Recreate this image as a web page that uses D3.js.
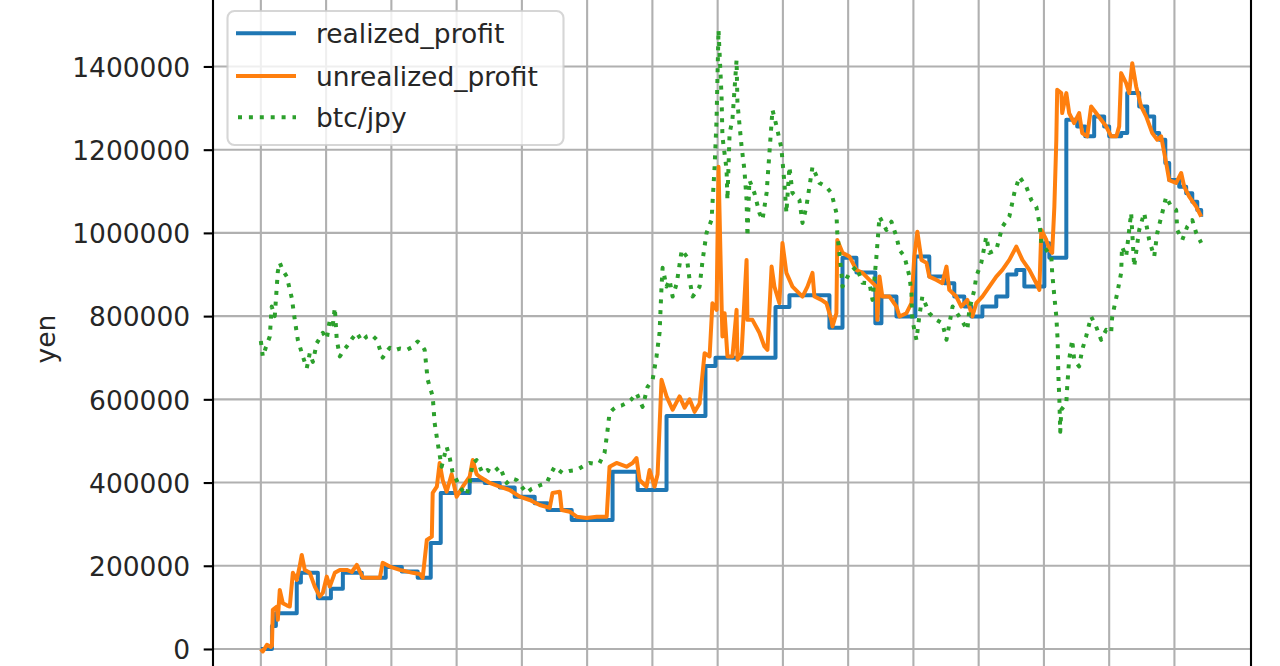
<!DOCTYPE html>
<html>
<head>
<meta charset="utf-8">
<script src="https://cdn.jsdelivr.net/npm/d3@7/dist/d3.min.js"></script>
<style>
  html, body { margin: 0; padding: 0; background: #fff; overflow: hidden; }
  svg { display: block; font-family: "DejaVu Sans", sans-serif; }
</style>
</head>
<body>
<svg id="chart" width="1280" height="666"></svg>
<script>
// x = days since start (one grid line every 30 days), y = yen

// realized profit, drawn as steps
const realizedProfit = [
  [0, 0], [5.1, 55000], [6.9, 86000], [16.5, 160000], [18.4, 183000], [26.2, 122000],
  [32.2, 145000], [37.7, 183000], [46.4, 171000], [57.4, 197000], [64.8, 186000],
  [72.1, 171000], [78.1, 255000], [82.7, 375000], [96.0, 406000], [102.9, 399000],
  [109.8, 388000], [116.7, 366000], [125.9, 350000], [131.8, 334000], [142.9, 310000],
  [161.7, 426000], [173.2, 382000], [186.5, 560000], [204.4, 680000], [209.0, 700000],
  [236.6, 822000], [243.0, 850000], [261.4, 772000], [267.4, 940000], [273.8, 905000],
  [282.5, 783000], [285.3, 847000], [292.2, 799000], [300.9, 943000], [307.3, 895000],
  [314.2, 879000], [318.8, 847000], [323.4, 823000], [326.6, 799000], [331.7, 823000],
  [338.1, 847000], [343.2, 900000], [347.3, 911000], [351.0, 871000], [360.2, 975000],
  [362.5, 940000], [370.3, 1272000], [375.3, 1256000], [379.0, 1232000], [383.1, 1280000],
  [387.7, 1256000], [390.0, 1232000], [395.5, 1240000], [398.3, 1336000], [403.8, 1304000],
  [407.5, 1280000], [410.7, 1240000], [413.0, 1224000], [415.8, 1168000], [417.6, 1127000],
  [422.2, 1111000], [425.4, 1095000], [428.2, 1075000], [430.5, 1055000], [432.3, 1039000]
];

// unrealized profit
const unrealizedProfit = [
  [0, 0], [0.9, -6000], [2.8, 10000], [4.6, 5000], [5.1, 8000], [5.5, 94000], [7.4, 102000],
  [7.8, 70000], [8.7, 142000], [10.1, 110000], [11.9, 105000], [13.3, 102000], [14.7, 183000],
  [16.5, 166000], [17.9, 200000], [18.8, 226000], [20.2, 190000], [22.5, 183000], [24.8, 150000],
  [27.1, 126000], [28.5, 135000], [30.3, 174000], [31.7, 150000], [34.0, 183000], [36.3, 190000],
  [39.5, 190000], [41.8, 185000], [44.1, 202000], [45.5, 186000], [46.9, 172000], [48.7, 171000],
  [54.7, 171000], [56.0, 207000], [59.3, 198000], [63.9, 190000], [69.8, 183000], [73.0, 180000],
  [74.4, 171000], [76.3, 262000], [78.6, 270000], [79.0, 375000], [80.9, 390000], [82.2, 447000],
  [83.6, 406000], [85.4, 378000], [87.7, 420000], [90.0, 366000], [92.8, 390000], [96.0, 414000],
  [97.4, 454000], [99.2, 420000], [100.6, 414000], [105.2, 399000], [109.8, 390000], [114.4, 382000],
  [119.0, 366000], [123.6, 358000], [128.2, 346000], [132.8, 339000], [134.1, 375000], [137.4, 378000],
  [138.3, 334000], [142.0, 330000], [145.2, 318000], [149.8, 315000], [154.4, 318000], [159.0, 318000],
  [160.3, 438000], [163.5, 447000], [168.1, 438000], [170.9, 447000], [172.7, 459000], [174.1, 406000],
  [177.3, 390000], [178.7, 430000], [181.0, 390000], [182.4, 420000], [183.3, 534000], [184.2, 647000],
  [186.5, 607000], [189.3, 575000], [192.5, 607000], [194.8, 580000], [197.1, 600000], [199.4, 570000],
  [201.7, 590000], [204.0, 711000], [206.3, 703000], [207.6, 831000], [209.5, 815000], [210.4, 1159000],
  [211.8, 831000], [212.2, 751000], [213.2, 807000], [214.5, 703000], [216.8, 703000], [218.7, 815000],
  [219.1, 695000], [221.0, 711000], [223.3, 935000], [223.7, 791000], [226.0, 791000], [229.2, 760000],
  [231.5, 727000], [232.9, 719000], [234.8, 919000], [236.1, 871000], [238.4, 831000], [239.8, 976000],
  [241.6, 904000], [244.4, 871000], [249.0, 847000], [251.3, 871000], [253.6, 904000], [254.5, 847000],
  [257.7, 839000], [260.0, 831000], [262.3, 791000], [262.8, 775000], [264.6, 807000], [265.0, 983000],
  [267.4, 952000], [270.6, 943000], [273.8, 911000], [276.6, 904000], [279.8, 887000], [283.0, 871000],
  [283.4, 791000], [284.4, 895000], [285.7, 847000], [289.0, 847000], [292.2, 823000], [293.6, 799000],
  [296.8, 807000], [299.1, 831000], [300.4, 943000], [301.8, 1003000], [303.7, 935000], [306.0, 928000],
  [307.3, 895000], [310.6, 887000], [313.3, 879000], [315.2, 919000], [316.5, 863000], [319.7, 847000],
  [322.0, 823000], [324.8, 839000], [327.1, 799000], [328.9, 831000], [331.7, 847000], [334.9, 871000],
  [338.1, 895000], [340.9, 911000], [344.1, 935000], [347.3, 967000], [350.1, 935000], [353.3, 911000],
  [356.5, 879000], [357.9, 863000], [358.8, 1007000], [361.1, 983000], [362.5, 959000], [363.8, 952000],
  [364.8, 1063000], [365.7, 1224000], [366.1, 1344000], [368.0, 1336000], [368.4, 1288000], [370.3, 1336000],
  [371.6, 1288000], [373.9, 1264000], [376.2, 1288000], [377.6, 1240000], [379.9, 1232000], [381.7, 1304000],
  [384.0, 1288000], [386.3, 1272000], [388.6, 1256000], [390.9, 1232000], [393.3, 1232000], [394.6, 1256000],
  [395.5, 1384000], [397.8, 1360000], [399.2, 1336000], [400.6, 1408000], [402.4, 1352000], [404.7, 1304000],
  [407.0, 1280000], [409.8, 1240000], [412.1, 1224000], [413.9, 1232000], [416.2, 1168000], [417.6, 1127000],
  [420.8, 1120000], [423.1, 1144000], [424.5, 1111000], [426.8, 1087000], [430.0, 1063000], [432.3, 1039000]
];

// btc/jpy price
const btcJpy = [
  [0, 740000], [0.9, 703000], [2.3, 725000], [4.1, 751000], [5.0, 823000], [6.4, 800000], [7.8, 907000],
  [8.7, 928000], [10.1, 910000], [11.9, 895000], [14.2, 844000], [15.6, 791000], [17.0, 743000],
  [19.3, 703000], [21.1, 675000], [22.5, 711000], [23.9, 690000], [25.7, 735000], [28.5, 760000],
  [30.3, 745000], [31.7, 791000], [33.1, 780000], [34.0, 820000], [34.9, 743000], [36.3, 703000],
  [37.7, 715000], [39.5, 727000], [41.8, 745000], [44.1, 760000], [46.4, 740000], [48.7, 751000],
  [51.0, 755000], [53.3, 743000], [56.0, 700000], [57.9, 715000], [59.3, 724000], [61.6, 718000],
  [63.9, 722000], [67.1, 719000], [69.4, 725000], [72.1, 739000], [74.0, 730000], [75.3, 719000],
  [76.7, 647000], [79.0, 607000], [79.9, 543000], [81.3, 495000], [83.1, 438000], [85.4, 486000],
  [86.8, 460000], [88.2, 423000], [89.6, 410000], [91.4, 390000], [92.8, 380000], [94.6, 370000],
  [96.0, 400000], [97.4, 447000], [99.2, 454000], [101.9, 423000], [104.2, 430000], [106.6, 423000],
  [109.8, 438000], [113.0, 399000], [115.3, 410000], [117.6, 406000], [119.9, 390000], [122.2, 375000],
  [124.5, 385000], [126.8, 390000], [129.1, 395000], [131.4, 399000], [133.2, 420000], [135.1, 438000],
  [137.4, 428000], [138.7, 423000], [141.9, 428000], [145.2, 430000], [148.4, 440000], [151.1, 447000],
  [153.4, 445000], [155.7, 447000], [158.0, 471000], [159.4, 526000], [160.3, 567000], [161.7, 575000],
  [163.5, 582000], [165.8, 585000], [168.1, 591000], [170.4, 600000], [172.7, 615000], [175.5, 582000],
  [177.8, 630000], [180.1, 647000], [181.9, 703000], [183.3, 760000], [184.2, 871000], [184.7, 916000],
  [186.5, 871000], [187.9, 887000], [189.3, 847000], [191.2, 879000], [193.5, 959000], [195.8, 943000],
  [197.1, 887000], [198.5, 847000], [200.3, 860000], [201.7, 871000], [203.1, 935000], [204.9, 1000000],
  [207.2, 1031000], [208.6, 1159000], [209.5, 1272000], [210.4, 1488000], [211.8, 1328000], [212.2, 1232000],
  [214.1, 1152000], [214.5, 1079000], [215.5, 1240000], [216.8, 1272000], [218.7, 1416000], [219.1, 1312000],
  [221.0, 1208000], [222.3, 1152000], [223.3, 1079000], [223.7, 991000], [224.6, 1127000], [226.9, 1096000],
  [229.2, 1048000], [230.6, 1031000], [232.5, 1096000], [233.8, 1192000], [235.2, 1296000], [237.1, 1256000],
  [239.3, 1204000], [240.7, 1120000], [241.6, 1048000], [243.0, 1159000], [244.4, 1096000], [247.6, 1079000],
  [249.0, 1024000], [250.8, 1063000], [253.6, 1159000], [256.8, 1120000], [259.9, 1111000], [262.3, 1096000],
  [264.6, 1048000], [265.0, 1000000], [266.9, 904000], [267.4, 871000], [270.6, 904000], [273.8, 919000],
  [276.6, 880000], [279.8, 879000], [281.2, 839000], [283.0, 943000], [284.4, 1039000], [287.6, 1007000],
  [289.9, 1027000], [292.2, 991000], [293.6, 959000], [295.9, 943000], [298.2, 895000], [299.1, 855000],
  [299.5, 791000], [301.4, 743000], [302.7, 799000], [304.1, 847000], [307.3, 807000], [310.6, 791000],
  [313.3, 783000], [315.2, 743000], [318.0, 823000], [321.1, 799000], [324.8, 767000], [325.7, 815000],
  [328.0, 863000], [328.9, 895000], [331.2, 928000], [333.5, 991000], [334.9, 952000], [338.1, 959000],
  [340.9, 1015000], [344.1, 1039000], [346.4, 1096000], [348.7, 1135000], [351.9, 1111000], [354.2, 1079000],
  [356.5, 1063000], [357.9, 1024000], [358.8, 976000], [361.1, 959000], [363.4, 943000], [363.8, 904000],
  [364.8, 847000], [365.7, 799000], [366.3, 743000], [366.6, 663000], [367.1, 599000], [367.5, 522000],
  [368.0, 575000], [370.3, 591000], [370.7, 630000], [371.6, 695000], [373.0, 743000], [373.9, 695000],
  [376.2, 679000], [377.6, 719000], [379.4, 751000], [381.7, 799000], [384.0, 775000], [386.3, 743000],
  [388.6, 767000], [390.9, 760000], [391.4, 799000], [393.7, 855000], [395.5, 904000], [395.9, 967000],
  [397.8, 943000], [400.1, 1048000], [401.5, 919000], [403.8, 1007000], [406.1, 1048000], [408.4, 983000],
  [410.7, 943000], [412.1, 1000000], [414.4, 1048000], [416.2, 1087000], [418.5, 1063000], [420.8, 1055000],
  [421.3, 1007000], [423.6, 983000], [425.9, 1015000], [428.2, 1031000], [430.0, 1000000], [432.3, 976000]
];

const xGridDays = d3.range(0, 421, 30);
const yTicks = [0, 200000, 400000, 600000, 800000, 1000000, 1200000, 1400000];

const seriesNames = ['realized_profit', 'unrealized_profit', 'btc/jpy'];
const colors = ['#1f77b4', '#ff7f0e', '#2ca02c'];

const FS = 26.5;          // font size (10pt at this scale)
const LW = 4;             // data line width
const GRID = 2.1;         // grid/spine width
const DOTS = '4 6.9';     // matplotlib ':' pattern at this scale

// axes box: top and bottom fall just outside the picture
const plotLeft = 213, plotRight = 1251;
const x = d3.scaleLinear().domain([-22, 455.2]).range([plotLeft, plotRight]);
const y = d3.scaleLinear().domain([-76000, 1566000]).range([680.6, -2.6]);
const plotTop = y.range()[1], plotBottom = y.range()[0];

const svg = d3.select('#chart');

svg.append('defs').append('clipPath').attr('id', 'plotclip')
  .append('rect')
  .attr('x', plotLeft).attr('y', plotTop)
  .attr('width', plotRight - plotLeft).attr('height', plotBottom - plotTop);

// grid
const grid = svg.append('g').attr('stroke', '#b0b0b0').attr('stroke-width', GRID);
grid.selectAll('line.gx').data(xGridDays).enter().append('line')
  .attr('class', 'gx')
  .attr('x1', d => x(d)).attr('x2', d => x(d))
  .attr('y1', plotTop).attr('y2', plotBottom);
grid.selectAll('line.gy').data(yTicks).enter().append('line')
  .attr('class', 'gy')
  .attr('x1', plotLeft).attr('x2', plotRight)
  .attr('y1', d => y(d)).attr('y2', d => y(d));

// lines
const plotG = svg.append('g').attr('clip-path', 'url(#plotclip)');

const stepLine = d3.line().x(d => x(d[0])).y(d => y(d[1])).curve(d3.curveStepAfter);
const plainLine = d3.line().x(d => x(d[0])).y(d => y(d[1]));

plotG.append('path')
  .attr('d', stepLine(realizedProfit))
  .attr('fill', 'none')
  .attr('stroke', colors[0])
  .attr('stroke-width', LW)
  .attr('stroke-linejoin', 'round');

plotG.append('path')
  .attr('d', plainLine(unrealizedProfit))
  .attr('fill', 'none')
  .attr('stroke', colors[1])
  .attr('stroke-width', LW)
  .attr('stroke-linejoin', 'round');

plotG.append('path')
  .attr('d', plainLine(btcJpy))
  .attr('fill', 'none')
  .attr('stroke', colors[2])
  .attr('stroke-width', LW)
  .attr('stroke-dasharray', DOTS)
  .attr('stroke-linejoin', 'round');

// y axis ticks + labels
const yAxis = d3.axisLeft(y)
  .tickValues(yTicks)
  .tickSize(9.3)
  .tickPadding(13.5)
  .tickFormat(d3.format('d'));

const yg = svg.append('g').attr('transform', `translate(${plotLeft},0)`).call(yAxis);
yg.select('.domain').remove();
yg.selectAll('.tick line').attr('stroke', '#000').attr('stroke-width', GRID);
yg.selectAll('.tick text')
  .attr('fill', '#262626')
  .attr('dy', null)
  .attr('y', 9.8)
  .style('font-size', FS + 'px')
  .style('font-family', '"DejaVu Sans", sans-serif');

// x axis ticks (bottom, below the visible area)
const xAxis = d3.axisBottom(x).tickValues(xGridDays).tickSize(9.3).tickFormat('');
const xg = svg.append('g').attr('transform', `translate(0,${plotBottom})`).call(xAxis);
xg.select('.domain').remove();
xg.selectAll('.tick line').attr('stroke', '#000').attr('stroke-width', GRID);

// spines
svg.append('rect')
  .attr('x', plotLeft).attr('y', plotTop)
  .attr('width', plotRight - plotLeft).attr('height', plotBottom - plotTop)
  .attr('fill', 'none')
  .attr('stroke', '#000')
  .attr('stroke-width', GRID);

// y label
svg.append('text')
  .attr('transform', `translate(55, ${(plotTop + plotBottom) / 2}) rotate(-90)`)
  .attr('text-anchor', 'middle')
  .attr('fill', '#262626')
  .style('font-size', FS + 'px')
  .text('yen');

// legend
const legend = svg.append('g');
legend.append('rect')
  .attr('x', 227.5).attr('y', 11)
  .attr('width', 336).attr('height', 134)
  .attr('rx', 7).attr('ry', 7)
  .attr('fill', 'rgba(255,255,255,0.8)')
  .attr('stroke', 'rgba(204,204,204,0.8)')
  .attr('stroke-width', GRID);

const rowY = [33.3, 76, 117.3];
const items = legend.selectAll('g.item').data(seriesNames).enter().append('g')
  .attr('transform', (d, i) => `translate(0, ${rowY[i]})`);

items.append('line')
  .attr('x1', 236).attr('x2', 296)
  .attr('y1', 0).attr('y2', 0)
  .attr('stroke', (d, i) => colors[i])
  .attr('stroke-width', LW)
  .attr('stroke-dasharray', (d, i) => i === 2 ? DOTS : null)
  .attr('stroke-dashoffset', (d, i) => i === 2 ? -2 : null);

items.append('text')
  .attr('x', 316)
  .attr('y', 10)
  .attr('fill', '#262626')
  .style('font-size', FS + 'px')
  .text(d => d);
</script>
</body>
</html>
